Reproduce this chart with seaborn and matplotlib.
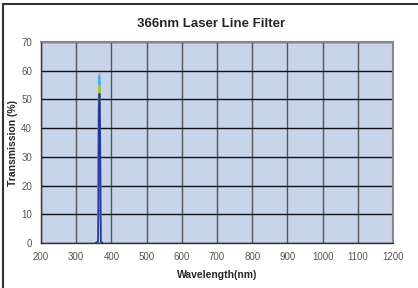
import numpy as np
import pandas as pd
import matplotlib
matplotlib.use("Agg")
import matplotlib.pyplot as plt
import seaborn as sns

# Measured spectra (several overlapping scans)
wavelength = [355, 362, 363, 364, 365, 366, 367, 368, 369, 370, 375]
scan_navy = [0, 0.5, 12, 45, 51, 52, 51, 40, 16, 0.5, 0]
scan_yellow = [0, 0.5, 13, 47, 54, 55, 53, 41, 15, 0.5, 0]
scan_cyan = [0, 0.5, 14, 49, 57, 58, 55, 40, 14, 0.5, 0]
scan_gray = [0, 0.5, 14, 50, 58, 59, 56, 39, 14, 0.5, 0]

x_ticks = [200, 300, 400, 500, 600, 700, 800, 900, 1000, 1100, 1200]
y_ticks = [0, 10, 20, 30, 40, 50, 60, 70]

df = pd.DataFrame({"wl": wavelength, "gray": scan_gray, "cyan": scan_cyan,
                   "yellow": scan_yellow, "navy": scan_navy})
long = df.melt(id_vars="wl", var_name="scan", value_name="T")

sns.set_style("white")
plt.rcParams["font.family"] = ["Liberation Sans", "DejaVu Sans"]

fig = plt.figure(figsize=(4.18, 2.88), dpi=100)
ax = fig.add_axes([41 / 418, 45 / 288, 352 / 418, 201 / 288])
ax.set_facecolor("#c8d4ea")

palette = {"gray": "#b0a8b8", "cyan": "#22b8e8", "yellow": "#c8c020", "navy": "#1e3a9a"}
sns.lineplot(data=long, x="wl", y="T", hue="scan", palette=palette,
             hue_order=["gray", "cyan", "yellow", "navy"], linewidth=1.2,
             legend=False, ax=ax)

ax.set_xlim(200, 1200)
ax.set_ylim(0, 70)
ax.set_xticks(x_ticks)
ax.set_yticks(y_ticks)
ax.tick_params(labelsize=7, labelcolor="#555555", length=3, color="#333333")
ax.grid(True, axis="x", color="#555555", linewidth=1)
ax.grid(True, axis="y", color="#111111", linewidth=1)
ax.set_axisbelow(True)
for s in ["top", "right"]:
    ax.spines[s].set_color("#888888")
    ax.spines[s].set_linewidth(1.5)
for s in ["left", "bottom"]:
    ax.spines[s].set_color("#333333")
    ax.spines[s].set_linewidth(1)

ax.set_xlabel("Wavelength(nm)", fontsize=7.5, fontweight="bold", labelpad=6)
ax.set_ylabel("Transmission (%)", fontsize=7.5, fontweight="bold", labelpad=2)
fig.text(211 / 418, 0.915, "366nm Laser Line Filter", ha="center", va="center",
         fontsize=9.5, fontweight="bold")

# outer chart frame (cropped on right/bottom)
fig.add_artist(plt.Line2D([2.5 / 418, 2.5 / 418], [0, 1 - 4 / 288], color="#333333", lw=1.5))
fig.add_artist(plt.Line2D([2.5 / 418, 1], [1 - 4 / 288, 1 - 4 / 288], color="#333333", lw=1.5))

fig.savefig("out.png", dpi=100)
